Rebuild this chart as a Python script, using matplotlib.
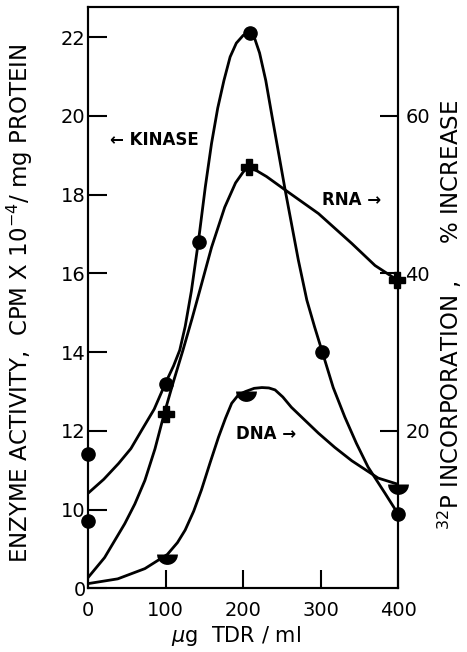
import numpy as np
import matplotlib.pyplot as plt

# ---- data ----
# kinase: left axis (enzyme activity, axis break: bottom "0" sits where 8 would be)
kin_x = [0, 0, 100, 143, 209, 302, 400]
kin_y = [11.4, 9.7, 13.2, 16.8, 22.1, 14.0, 9.9]
# hand drawn curve through the kinase points
kin_cx = [0, 20, 39, 55, 69, 85, 100, 110, 118, 125, 133, 142, 151, 159, 167, 175, 183, 191, 200, 209,
          215, 221, 229, 237, 254, 271, 282, 292, 302, 316, 331, 346, 361, 383, 400]
kin_cy = [10.42, 10.77, 11.17, 11.55, 12.02, 12.55, 13.23, 13.65, 14.05, 14.65, 15.55, 16.8, 18.2, 19.3, 20.2, 20.9, 21.5, 21.85, 22.05, 22.1,
          21.95, 21.6, 20.9, 20.0, 18.12, 16.34, 15.32, 14.64, 14.0, 13.1, 12.35, 11.68, 11.08, 10.41, 9.88]

# RNA and DNA: right axis (32P incorporation, % increase)
rna_x = [100, 207, 398]
rna_y = [22.2, 53.5, 39.2]
rna_cx = [0, 21, 47, 60, 73, 86, 98, 110, 122, 134, 146, 159, 176, 190, 200, 207, 218, 230, 254, 297, 340, 370, 398]
rna_cy = [1.4, 3.9, 8.2, 10.7, 13.7, 17.7, 22.2, 26.3, 30.2, 34.3, 38.6, 43.3, 48.4, 51.5, 52.9, 53.5, 53.0, 52.3, 50.6, 47.6, 43.8, 41.0, 39.2]

dna_x = [102, 203, 400]
dna_y = [4.3, 25.0, 13.2]
dna_cx = [0, 38, 73, 102, 115, 125, 136, 146, 157, 168, 177, 185, 194, 203, 214, 224, 233, 241, 251, 262, 280, 297, 318, 340, 374, 400]
dna_cy = [0.6, 1.2, 2.5, 4.3, 5.8, 7.4, 9.8, 12.5, 15.9, 19.2, 21.6, 23.5, 24.6, 25.0, 25.4, 25.5, 25.45, 25.2, 24.3, 23.0, 21.3, 19.7, 17.9, 16.2, 14.0, 13.2]

left_ticks = [8, 10, 12, 14, 16, 18, 20, 22]
left_labels = ["0", "10", "12", "14", "16", "18", "20", "22"]
right_ticks = [20, 40, 60]
x_ticks = [0, 100, 200, 300, 400]

####################################################################
fig = plt.figure(figsize=(4.67, 6.52), dpi=100)
ax = fig.add_axes([88.3/467, 1-588.3/652, 310/467, 581/652])
ax2 = ax.twinx()

lw = 2.0
ax.plot(kin_cx, kin_cy, color='black', lw=lw, solid_joinstyle='round', zorder=2)
ax.plot(kin_x, kin_y, 'o', color='black', ms=9.5, clip_on=False, zorder=3)

ax2.plot(rna_cx, rna_cy, color='black', lw=lw, solid_joinstyle='round', zorder=2)
ax2.plot(rna_x, rna_y, 'P', color='black', ms=11, clip_on=False, zorder=3)

ax2.plot(dna_cx, dna_cy, color='black', lw=lw, solid_joinstyle='round', zorder=2)
ax2.plot(dna_x, dna_y, 'o', color='black', ms=15, fillstyle='bottom',
         markerfacecoloralt='none', mew=0, clip_on=False, zorder=3)

ax.set_xlim(0, 400)
ax.set_ylim(8, 22.76)
ax2.set_ylim(0, 5*22.76 - 40)

ax.set_xticks(x_ticks)
ax.set_yticks(left_ticks)
ax.set_yticklabels(left_labels)
ax2.set_yticks(right_ticks)

ax.tick_params(axis='y', direction='in', length=14, width=1.5, pad=2, labelsize=14)
ax.tick_params(axis='x', direction='in', length=13, width=1.5, pad=9, labelsize=14)
ax2.tick_params(axis='y', direction='in', length=13, width=1.5, pad=5, labelsize=14)
for a in (ax, ax2):
    for s in a.spines.values():
        s.set_linewidth(1.5)

ax.set_ylabel("ENZYME ACTIVITY,  CPM X 10$^{-4}$/ mg PROTEIN", fontsize=16.5)
ax.yaxis.set_label_coords(-0.172, 0.49)
ax2.set_ylabel("$^{32}$P INCORPORATION ,     % INCREASE", fontsize=16.5, rotation=90)
ax2.yaxis.set_label_coords(1.12, 0.47)
ax.set_xlabel(r"$\mu$g  TDR / ml", fontsize=15)
ax.xaxis.set_label_coords(0.476, -0.062)

ax.text(28, 19.39, "\u2190 KINASE", fontsize=12, fontweight='bold', va='center')
ax.text(301, 17.86, "RNA \u2192", fontsize=12, fontweight='bold', va='center')
ax.text(191, 11.93, "DNA \u2192", fontsize=12, fontweight='bold', va='center')

plt.savefig("out.png", dpi=100)
